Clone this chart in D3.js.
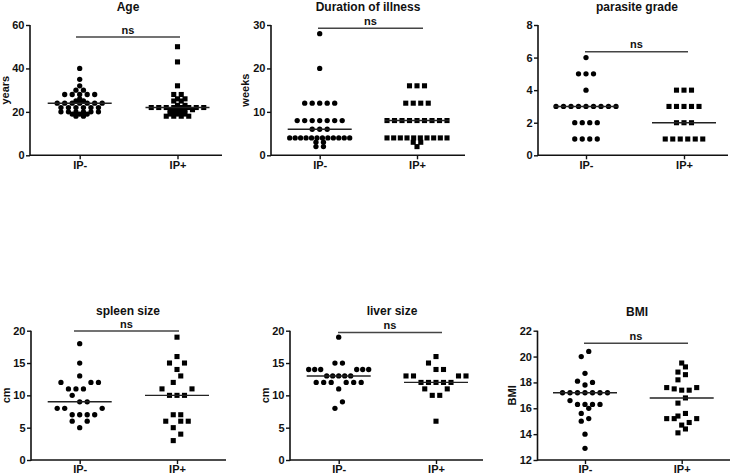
<!DOCTYPE html>
<html><head><meta charset="utf-8">
<script src="https://cdn.jsdelivr.net/npm/d3@7"></script>
<style>
body{margin:0;background:#fff;}
svg text{font-family:"Liberation Sans",Arial,sans-serif;font-weight:bold;fill:#111;}
</style></head><body>
<svg id="chart" width="735" height="476"></svg>
<script>
// ---------- data ----------
const groups = ["IP-", "IP+"];
const titles = ["Age", "Duration of illness", "parasite grade", "spleen size", "liver size", "BMI"];
const yLabels = ["years", "weeks", "", "cm", "cm", "BMI"];
const yTicks = [[0,20,40,60],[0,10,20,30],[0,2,4,6,8],[0,5,10,15,20],[0,5,10,15,20],[12,14,16,18,20,22]];
const sigLabels = ["ns","ns","ns","ns","ns","ns"];

const ageNeg = [40,35,32,30,30,28,28,28,28,28,26,25,25,24,24,24,24,24,24,24,22,22,22,22,22,22,20,20,20,20,20,20,19,19,19,18,18];
const agePos = [50,43,32,28,28,26,26,25,25,23,23,22,22,22,22,22,22,22,22,21,21,21,21,20,20,19,19,19,18,18,18,18];
const durNeg = [28,20,12,12,12,12,12,8,8,8,8,8,8,8,6,6,6,4,4,4,4,4,4,4,4,4,4,4,4,3,3,2,2];
const durPos = [16,16,16,12,12,12,12,8,8,8,8,8,8,8,8,8,4,4,4,4,4,4,4,4,4,4,3,3,2];
const parNeg = [6,5,5,5,4,3,3,3,3,3,3,3,3,3,2,2,2,2,1,1,1,1];
const parPos = [4,4,4,3,3,3,3,3,2,2,2,1,1,1,1,1,1];
const splNeg = [18,15,13,12,12,12,11,11,11,10,9,9,8,8,8,7,7,7,7,6,6,5];
const splPos = [19,16,15,15,14,13,12,11,11,10,10,10,7,7,6,6,6,5,4,3];
const livNeg = [19,15,15,14,14,14,14,14,14,13,13,13,13,13,12,12,12,12,12,12,11,9,8];
const livPos = [16,15,14,14,13,13,13,13,12,12,12,12,12,11,11,10,10,6];
const bmiNeg = [20.4,20.0,18.7,18.1,18.0,17.8,17.2,17.2,17.2,17.2,17.2,17.2,17.2,16.6,16.3,16.3,16.3,16.3,16.0,15.6,15.2,15.0,14.0,12.9];
const bmiPos = [19.5,19.2,18.8,18.6,18.2,17.6,17.6,17.5,17.4,17.4,16.8,16.4,15.6,15.4,15.2,15.2,15.2,14.9,14.7,14.4,14.1];
const medians = [[24,22],[6,8],[3,2],[9,10],[13,12],[17.2,16.8]];

const seriesData = [[ageNeg,agePos],[durNeg,durPos],[parNeg,parPos],[splNeg,splPos],[livNeg,livPos],[bmiNeg,bmiPos]];

// ---------- layout ----------
const layout = [
  {x0:30,  x1:222, c:[79.7,177.5], yTop:25,    yBot:155.3, tx:128, ty:10.5,  ns:[37,76,180],    lx:8.5,   binT:0},
  {x0:271, x1:465, c:[319.7,417],  yTop:25,    yBot:155.3, tx:368, ty:10.5,  ns:[28.3,318,423], lx:248.5, binT:0},
  {x0:538, x1:728, c:[586,684],    yTop:25,    yBot:155.3, tx:637, ty:10.5,  ns:[51.7,585,688], lx:0,     binT:0},
  {x0:31,  x1:226, c:[79.7,177],   yTop:330.7, yBot:460,   tx:128, ty:314.5, ns:[331,74,179],   lx:9.5,   binT:1},
  {x0:290, x1:483, c:[338.7,436],  yTop:330.7, yBot:460,   tx:392, ty:315,   ns:[332.5,338,442],lx:268.5, binT:1},
  {x0:537.5,x1:730,c:[585,681.7],  yTop:330.7, yBot:460,   tx:637, ty:315.5, ns:[343.3,584,688],lx:515.5, binT:0.5}
];

const svg = d3.select("#chart");
const ink = "#111";

// column-scatter layout: values are grouped into rows, each row centred
function swarm(vals, y, binT) {
  const step = 7.5, maxW = 60, minD = 4.2, eps = 1e-6;
  const sorted = vals.slice().sort((a, b) => a - b);
  const bins = []; let cur = null;
  for (const v of sorted) {
    if (cur && v - cur.start <= binT + eps) cur.vals.push(v);
    else { cur = {start: v, vals: [v]}; bins.push(cur); }
  }
  bins.sort((a, b) => b.vals.length - a.vals.length || a.start - b.start);
  const placed = [];
  const collides = (x, yy) => placed.some(p => (p.x - x) ** 2 + (p.y - yy) ** 2 < minD * minD);
  for (const b of bins) {
    const n = b.vals.length;
    const s = n > 1 ? Math.min(step, maxW / (n - 1)) : step;
    const pos = d3.range(n).map(i => (i - (n - 1) / 2) * s)
      .sort((a, c) => Math.abs(a) - Math.abs(c) || (n % 2 ? c - a : a - c));
    const pts = b.vals.map((v, i) => ({v, x: pos[i], y: y(v)}));
    let done = false;
    for (let k = 0; k < 12 && !done; k++) {
      const sh = k === 0 ? 0 : (k % 2 ? 1 : -1) * Math.ceil(k / 2) * s / 2;
      if (pts.every(p => !collides(p.x + sh, p.y))) {
        pts.forEach(p => placed.push({v: p.v, x: p.x + sh, y: p.y}));
        done = true;
      }
    }
    if (!done) {
      pts.forEach((p, i) => {
        const sgn = i % 2 ? -1 : 1;
        for (let k = 0; k < 400; k++) {
          const off = k === 0 ? 0 : sgn * (k % 2 ? 1 : -1) * Math.ceil(k / 2) * 0.5;
          if (!collides(off, p.y)) { placed.push({v: p.v, x: off, y: p.y}); break; }
        }
      });
    }
  }
  return placed;
}

layout.forEach((L, pi) => {
  const g = svg.append("g");
  const ticks = yTicks[pi];
  const y = d3.scaleLinear().domain([ticks[0], ticks[ticks.length - 1]]).range([L.yBot, L.yTop]);
  const x = d3.scaleOrdinal().domain(groups).range(L.c);

  // y axis
  const ya = g.append("g").attr("transform", `translate(${L.x0},0)`)
    .call(d3.axisLeft(y).tickValues(ticks).tickSize(4).tickPadding(1.5).tickSizeOuter(0).tickFormat(d3.format("d")));
  ya.select(".domain").attr("stroke", ink).attr("stroke-width", 1.6).attr("d", `M0,${L.yBot + 0.8}V${L.yTop}`);
  ya.selectAll(".tick line").attr("stroke", ink).attr("stroke-width", 1.4);
  ya.selectAll(".tick text").attr("font-size", 11).attr("fill", ink);

  // x axis
  const xa = g.append("g").attr("transform", `translate(0,${L.yBot})`)
    .call(d3.axisBottom(d3.scalePoint().domain(groups).range(L.c)).tickSize(4).tickPadding(1.5).tickSizeOuter(0));
  xa.select(".domain").attr("stroke", ink).attr("stroke-width", 1.6).attr("d", `M${L.x0},0H${L.x1}`);
  xa.selectAll(".tick line").attr("stroke", ink).attr("stroke-width", 1.4);
  xa.selectAll(".tick text").attr("font-size", 11).attr("fill", ink);

  // title
  g.append("text").attr("x", L.tx).attr("y", L.ty).attr("text-anchor", "middle")
    .attr("font-size", 12).text(titles[pi]);

  // y label
  if (yLabels[pi]) {
    g.append("text").attr("transform", `translate(${L.lx},${(L.yTop + L.yBot) / 2}) rotate(-90)`)
      .attr("text-anchor", "middle").attr("font-size", 11).text(yLabels[pi]);
  }

  // significance bracket
  g.append("line").attr("x1", L.ns[1]).attr("x2", L.ns[2]).attr("y1", L.ns[0]).attr("y2", L.ns[0])
    .attr("stroke", "#444").attr("stroke-width", 1.5);
  g.append("text").attr("x", (L.ns[1] + L.ns[2]) / 2).attr("y", L.ns[0] - 3.5)
    .attr("text-anchor", "middle").attr("font-size", 11).text(sigLabels[pi]);

  // points
  groups.forEach((grp, gi) => {
    const pts = swarm(seriesData[pi][gi], y, L.binT);
    const sym = d3.symbol().type(gi === 0 ? d3.symbolCircle : d3.symbolSquare).size(gi === 0 ? 22 : 26);
    g.append("g").selectAll("path").data(pts).join("path")
      .attr("transform", d => `translate(${x(grp) + d.x},${d.y})`)
      .attr("d", sym).attr("fill", "#000");
    // median line
    const my = y(medians[pi][gi]);
    g.append("line").attr("x1", x(grp) - 32).attr("x2", x(grp) + 32).attr("y1", my).attr("y2", my)
      .attr("stroke", "#222").attr("stroke-width", 1.4);
  });
});
</script>
</body></html>
